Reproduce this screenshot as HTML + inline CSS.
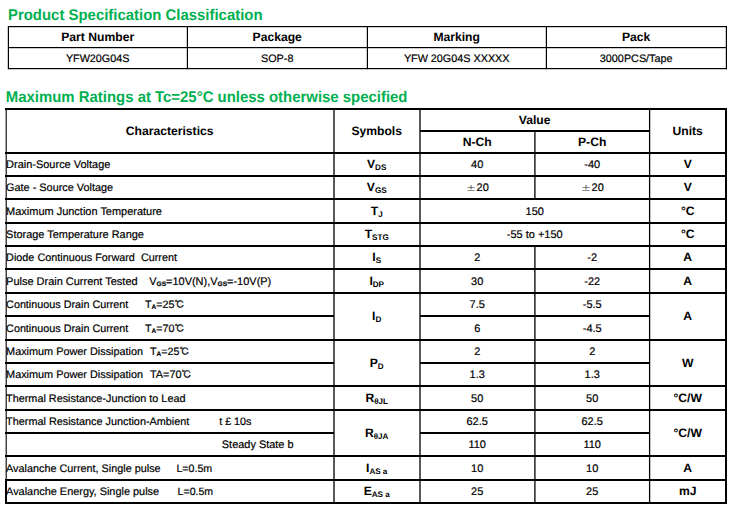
<!DOCTYPE html>
<html><head><meta charset="utf-8"><style>
html,body{margin:0;padding:0;background:#fff;width:735px;height:509px;overflow:hidden;}
body{position:relative;font-family:"Liberation Sans",Arial,"Noto Sans CJK SC",sans-serif;color:#000;}
.t{position:absolute;white-space:pre;line-height:normal;text-rendering:geometricPrecision;}
.r{-webkit-text-stroke:0.2px currentColor;}
.sub{font-size:0.667em;vertical-align:-0.28em;line-height:0;}
.b{font-weight:bold;font-size:0.6em;vertical-align:-0.15em;}
.cjk{font-family:"IPAGothic",sans-serif;line-height:0;font-size:0.92em;}
.pm{font-family:"IPAGothic",sans-serif;line-height:0;display:inline-block;transform:scaleY(0.72);transform-origin:50% 0.3em;-webkit-text-stroke:0;color:#333;}
svg{position:absolute;left:0;top:0;}
</style></head><body>
<svg width="735" height="509" viewBox="0 0 735 509">
<rect x="8.00" y="26.00" width="719.00" height="1.20" fill="#000"/>
<rect x="8.00" y="47.00" width="719.00" height="1.20" fill="#000"/>
<rect x="8.00" y="68.00" width="719.00" height="1.20" fill="#000"/>
<rect x="7.80" y="26.00" width="1.20" height="43.20" fill="#000"/>
<rect x="186.80" y="26.00" width="1.20" height="43.20" fill="#000"/>
<rect x="366.80" y="26.00" width="1.20" height="43.20" fill="#000"/>
<rect x="545.80" y="26.00" width="1.20" height="43.20" fill="#000"/>
<rect x="725.80" y="26.00" width="1.20" height="43.20" fill="#000"/>
<rect x="5.00" y="108.00" width="722.00" height="2.00" fill="#000"/>
<rect x="420.00" y="130.00" width="230.00" height="2.00" fill="#000"/>
<rect x="5.65" y="108.00" width="1.10" height="396.00" fill="#000"/>
<rect x="5.00" y="479.00" width="2.00" height="25.00" fill="#000"/>
<rect x="725.00" y="108.00" width="2.00" height="396.00" fill="#000"/>
<rect x="333.35" y="109.00" width="1.30" height="394.00" fill="#000"/>
<rect x="419.35" y="109.00" width="1.30" height="394.00" fill="#000"/>
<rect x="648.95" y="109.00" width="1.30" height="394.00" fill="#000"/>
<rect x="534.25" y="131.00" width="1.30" height="68.00" fill="#000"/>
<rect x="534.25" y="246.00" width="1.30" height="257.00" fill="#000"/>
<rect x="5.00" y="152.00" width="722.00" height="2.00" fill="#000"/>
<rect x="5.00" y="175.00" width="722.00" height="2.00" fill="#000"/>
<rect x="5.00" y="198.00" width="722.00" height="2.00" fill="#000"/>
<rect x="5.00" y="222.00" width="722.00" height="2.00" fill="#000"/>
<rect x="5.00" y="245.00" width="722.00" height="2.00" fill="#000"/>
<rect x="5.00" y="268.00" width="722.00" height="2.00" fill="#000"/>
<rect x="5.00" y="292.00" width="722.00" height="2.00" fill="#000"/>
<rect x="5.00" y="315.00" width="329.00" height="2.00" fill="#000"/>
<rect x="420.00" y="315.00" width="230.00" height="2.00" fill="#000"/>
<rect x="5.00" y="339.00" width="722.00" height="2.00" fill="#000"/>
<rect x="5.00" y="362.00" width="329.00" height="2.00" fill="#000"/>
<rect x="420.00" y="362.00" width="230.00" height="2.00" fill="#000"/>
<rect x="5.00" y="385.00" width="722.00" height="2.00" fill="#000"/>
<rect x="5.00" y="409.00" width="722.00" height="2.00" fill="#000"/>
<rect x="5.00" y="432.00" width="329.00" height="2.00" fill="#000"/>
<rect x="420.00" y="432.00" width="230.00" height="2.00" fill="#000"/>
<rect x="5.00" y="455.00" width="722.00" height="2.00" fill="#000"/>
<rect x="5.00" y="479.00" width="722.00" height="2.00" fill="#000"/>
<rect x="5.00" y="502.00" width="722.00" height="2.00" fill="#000"/>
</svg>
<div class="t" style="left:8.00px;top:7px;font-size:14.93px;font-weight:bold;color:#00B050;transform:scaleY(1.04);transform-origin:0 13px;">Product Specification Classification</div>
<div class="t" style="left:5.80px;top:89px;font-size:14.93px;font-weight:bold;color:#00B050;transform:scaleY(1.04);transform-origin:0 13px;">Maximum Ratings at Tc=25°C unless otherwise specified</div>
<div class="t" style="left:8.20px;top:30px;font-size:12.15px;font-weight:bold;width:179.00px;text-align:center;">Part Number</div>
<div class="t r" style="left:8.20px;top:53px;font-size:10.8px;width:179.00px;text-align:center;">YFW20G04S</div>
<div class="t" style="left:187.20px;top:30px;font-size:12.15px;font-weight:bold;width:180.00px;text-align:center;">Package</div>
<div class="t r" style="left:187.20px;top:53px;font-size:10.8px;width:180.00px;text-align:center;">SOP-8</div>
<div class="t" style="left:367.20px;top:30px;font-size:12.15px;font-weight:bold;width:179.00px;text-align:center;">Marking</div>
<div class="t r" style="left:367.20px;top:53px;font-size:10.8px;width:179.00px;text-align:center;">YFW 20G04S XXXXX</div>
<div class="t" style="left:546.20px;top:30px;font-size:12.15px;font-weight:bold;width:180.00px;text-align:center;">Pack</div>
<div class="t r" style="left:546.20px;top:53px;font-size:10.8px;width:180.00px;text-align:center;">3000PCS/Tape</div>
<div class="t" style="left:5.70px;top:124px;font-size:12.15px;font-weight:bold;width:328.00px;text-align:center;">Characteristics</div>
<div class="t" style="left:333.70px;top:124px;font-size:12.15px;font-weight:bold;width:86.00px;text-align:center;">Symbols</div>
<div class="t" style="left:419.70px;top:113px;font-size:12.15px;font-weight:bold;width:230.00px;text-align:center;">Value</div>
<div class="t" style="left:419.70px;top:135px;font-size:12.15px;font-weight:bold;width:115.00px;text-align:center;">N-Ch</div>
<div class="t" style="left:534.70px;top:135px;font-size:12.15px;font-weight:bold;width:115.00px;text-align:center;">P-Ch</div>
<div class="t" style="left:649.70px;top:124px;font-size:12.15px;font-weight:bold;width:76.00px;text-align:center;">Units</div>
<div class="t r" style="left:6.10px;top:159px;font-size:10.98px;">Drain-Source Voltage</div>
<div class="t r" style="left:6.10px;top:182px;font-size:10.898px;">Gate - Source Voltage</div>
<div class="t r" style="left:6.10px;top:206px;font-size:10.977px;">Maximum Junction Temperature</div>
<div class="t r" style="left:6.10px;top:229px;font-size:10.946px;">Storage Temperature Range</div>
<div class="t r" style="left:6.10px;top:252px;font-size:10.837px;">Diode Continuous Forward&nbsp; Current</div>
<div class="t r" style="left:6.10px;top:276px;font-size:10.97px;">Pulse Drain Current Tested</div>
<div class="t r" style="left:149.20px;top:276px;font-size:10.979px;">V<span class="sub b">GS</span>=10V(N),V<span class="sub b">GS</span>=-10V(P)</div>
<div class="t r" style="left:6.10px;top:299px;font-size:10.795px;">Continuous Drain Current</div>
<div class="t r" style="left:145.00px;top:299px;font-size:10.773px;">T<span class="sub b">A</span>=25<span class="cjk">℃</span></div>
<div class="t r" style="left:6.10px;top:323px;font-size:10.795px;">Continuous Drain Current</div>
<div class="t r" style="left:145.00px;top:323px;font-size:10.773px;">T<span class="sub b">A</span>=70<span class="cjk">℃</span></div>
<div class="t r" style="left:6.10px;top:346px;font-size:10.875px;">Maximum Power Dissipation</div>
<div class="t r" style="left:150.00px;top:346px;font-size:10.745px;">T<span class="sub b">A</span>=25<span class="cjk">℃</span></div>
<div class="t r" style="left:6.10px;top:369px;font-size:10.875px;">Maximum Power Dissipation</div>
<div class="t r" style="left:150.00px;top:369px;font-size:10.863px;">TA=70<span class="cjk">℃</span></div>
<div class="t r" style="left:6.10px;top:393px;font-size:10.849px;">Thermal Resistance-Junction to Lead</div>
<div class="t r" style="left:6.10px;top:416px;font-size:10.851px;">Thermal Resistance Junction-Ambient</div>
<div class="t r" style="left:219.19px;top:416px;font-size:10.749px;">t £ 10s</div>
<div class="t r" style="left:221.81px;top:439px;font-size:10.956px;">Steady State b</div>
<div class="t r" style="left:6.10px;top:463px;font-size:10.843px;">Avalanche Current, Single pulse</div>
<div class="t r" style="left:176.41px;top:463px;font-size:10.665px;">L=0.5m</div>
<div class="t r" style="left:6.10px;top:486px;font-size:10.927px;">Avalanche Energy, Single pulse</div>
<div class="t r" style="left:177.62px;top:486px;font-size:10.575px;">L=0.5m</div>
<div class="t" style="left:333.70px;top:157px;font-size:12.15px;font-weight:bold;width:86.00px;text-align:center;">V<span class="sub">DS</span></div>
<div class="t" style="left:333.70px;top:180px;font-size:12.15px;font-weight:bold;width:86.00px;text-align:center;">V<span class="sub">GS</span></div>
<div class="t" style="left:333.70px;top:204px;font-size:12.15px;font-weight:bold;width:86.00px;text-align:center;">T<span class="sub">J</span></div>
<div class="t" style="left:333.70px;top:227px;font-size:12.15px;font-weight:bold;width:86.00px;text-align:center;">T<span class="sub">STG</span></div>
<div class="t" style="left:333.70px;top:250px;font-size:12.15px;font-weight:bold;width:86.00px;text-align:center;">I<span class="sub">S</span></div>
<div class="t" style="left:333.70px;top:274px;font-size:12.15px;font-weight:bold;width:86.00px;text-align:center;">I<span class="sub">DP</span></div>
<div class="t" style="left:333.70px;top:309px;font-size:12.15px;font-weight:bold;width:86.00px;text-align:center;">I<span class="sub">D</span></div>
<div class="t" style="left:333.70px;top:356px;font-size:12.15px;font-weight:bold;width:86.00px;text-align:center;">P<span class="sub">D</span></div>
<div class="t" style="left:333.70px;top:391px;font-size:12.15px;font-weight:bold;width:86.00px;text-align:center;">R<span class="sub">θJL</span></div>
<div class="t" style="left:333.70px;top:426px;font-size:12.15px;font-weight:bold;width:86.00px;text-align:center;">R<span class="sub">θJA</span></div>
<div class="t" style="left:333.70px;top:461px;font-size:12.15px;font-weight:bold;width:86.00px;text-align:center;">I<span class="sub">AS a</span></div>
<div class="t" style="left:333.70px;top:484px;font-size:12.15px;font-weight:bold;width:86.00px;text-align:center;">E<span class="sub">AS a</span></div>
<div class="t" style="left:649.70px;top:157px;font-size:12.15px;font-weight:bold;width:76.00px;text-align:center;">V</div>
<div class="t" style="left:649.70px;top:180px;font-size:12.15px;font-weight:bold;width:76.00px;text-align:center;">V</div>
<div class="t" style="left:649.70px;top:204px;font-size:12.15px;font-weight:bold;width:76.00px;text-align:center;">°C</div>
<div class="t" style="left:649.70px;top:227px;font-size:12.15px;font-weight:bold;width:76.00px;text-align:center;">°C</div>
<div class="t" style="left:649.70px;top:250px;font-size:12.15px;font-weight:bold;width:76.00px;text-align:center;">A</div>
<div class="t" style="left:649.70px;top:274px;font-size:12.15px;font-weight:bold;width:76.00px;text-align:center;">A</div>
<div class="t" style="left:649.70px;top:309px;font-size:12.15px;font-weight:bold;width:76.00px;text-align:center;">A</div>
<div class="t" style="left:649.70px;top:356px;font-size:12.15px;font-weight:bold;width:76.00px;text-align:center;">W</div>
<div class="t" style="left:649.70px;top:391px;font-size:12.15px;font-weight:bold;width:76.00px;text-align:center;">°C/W</div>
<div class="t" style="left:649.70px;top:426px;font-size:12.15px;font-weight:bold;width:76.00px;text-align:center;">°C/W</div>
<div class="t" style="left:649.70px;top:461px;font-size:12.15px;font-weight:bold;width:76.00px;text-align:center;">A</div>
<div class="t" style="left:649.70px;top:484px;font-size:12.15px;font-weight:bold;width:76.00px;text-align:center;">mJ</div>
<div class="t r" style="left:419.70px;top:159px;font-size:10.97px;width:115.00px;text-align:center;">40</div>
<div class="t r" style="left:534.70px;top:159px;font-size:10.97px;width:115.00px;text-align:center;">-40</div>
<div class="t r" style="left:419.70px;top:182px;font-size:10.97px;width:115.00px;text-align:center;"><span class="pm">±</span>20</div>
<div class="t r" style="left:534.70px;top:182px;font-size:10.97px;width:115.00px;text-align:center;"><span class="pm">±</span>20</div>
<div class="t r" style="left:419.70px;top:206px;font-size:10.97px;width:230.00px;text-align:center;">150</div>
<div class="t r" style="left:419.70px;top:229px;font-size:10.97px;width:230.00px;text-align:center;">-55 to +150</div>
<div class="t r" style="left:419.70px;top:252px;font-size:10.97px;width:115.00px;text-align:center;">2</div>
<div class="t r" style="left:534.70px;top:252px;font-size:10.97px;width:115.00px;text-align:center;">-2</div>
<div class="t r" style="left:419.70px;top:276px;font-size:10.97px;width:115.00px;text-align:center;">30</div>
<div class="t r" style="left:534.70px;top:276px;font-size:10.97px;width:115.00px;text-align:center;">-22</div>
<div class="t r" style="left:419.70px;top:299px;font-size:10.97px;width:115.00px;text-align:center;">7.5</div>
<div class="t r" style="left:534.70px;top:299px;font-size:10.97px;width:115.00px;text-align:center;">-5.5</div>
<div class="t r" style="left:419.70px;top:323px;font-size:10.97px;width:115.00px;text-align:center;">6</div>
<div class="t r" style="left:534.70px;top:323px;font-size:10.97px;width:115.00px;text-align:center;">-4.5</div>
<div class="t r" style="left:419.70px;top:346px;font-size:10.97px;width:115.00px;text-align:center;">2</div>
<div class="t r" style="left:534.70px;top:346px;font-size:10.97px;width:115.00px;text-align:center;">2</div>
<div class="t r" style="left:419.70px;top:369px;font-size:10.97px;width:115.00px;text-align:center;">1.3</div>
<div class="t r" style="left:534.70px;top:369px;font-size:10.97px;width:115.00px;text-align:center;">1.3</div>
<div class="t r" style="left:419.70px;top:393px;font-size:10.97px;width:115.00px;text-align:center;">50</div>
<div class="t r" style="left:534.70px;top:393px;font-size:10.97px;width:115.00px;text-align:center;">50</div>
<div class="t r" style="left:419.70px;top:416px;font-size:10.97px;width:115.00px;text-align:center;">62.5</div>
<div class="t r" style="left:534.70px;top:416px;font-size:10.97px;width:115.00px;text-align:center;">62.5</div>
<div class="t r" style="left:419.70px;top:439px;font-size:10.97px;width:115.00px;text-align:center;">110</div>
<div class="t r" style="left:534.70px;top:439px;font-size:10.97px;width:115.00px;text-align:center;">110</div>
<div class="t r" style="left:419.70px;top:463px;font-size:10.97px;width:115.00px;text-align:center;">10</div>
<div class="t r" style="left:534.70px;top:463px;font-size:10.97px;width:115.00px;text-align:center;">10</div>
<div class="t r" style="left:419.70px;top:486px;font-size:10.97px;width:115.00px;text-align:center;">25</div>
<div class="t r" style="left:534.70px;top:486px;font-size:10.97px;width:115.00px;text-align:center;">25</div>
</body></html>
